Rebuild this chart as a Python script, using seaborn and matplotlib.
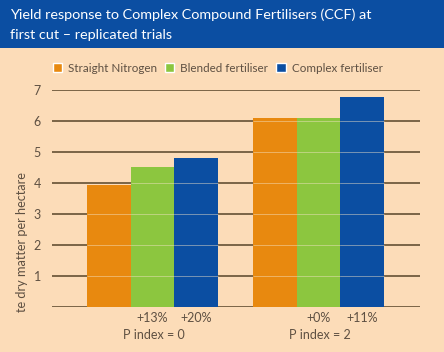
import pandas as pd
import matplotlib.pyplot as plt
import seaborn as sns
from matplotlib.patches import Rectangle

# Data
groups = ["P index = 0", "P index = 2"]
fertilisers = ["Straight Nitrogen", "Blended fertiliser", "Complex fertiliser"]
straight_n = [3.95, 6.1]
blended = [4.52, 6.1]
complex_f = [4.81, 6.77]
pct_labels = [["", "+13%", "+20%"], ["", "+0%", "+11%"]]
yticks = [1, 2, 3, 4, 5, 6, 7]

df = pd.DataFrame({
    "group": groups * 3,
    "fert": [f for f in fertilisers for _ in groups],
    "yield": straight_n + blended + complex_f,
})

peach = "#fcdcb8"
navy = "#0b4ea2"
brown = "#7a6446"
txt = "#5e5042"
colors = ["#e8890f", "#8cc63f", navy]

sns.set_style("white")
plt.rcParams["font.family"] = ["Lato", "DejaVu Sans"]

fig = plt.figure(figsize=(4.44, 3.52), dpi=100, facecolor=peach)
ax = fig.add_axes([52 / 444, 1 - 307 / 352, 368 / 444, 217 / 352])
ax.set_facecolor(peach)

sns.barplot(data=df, x="group", y="yield", hue="fert", palette=colors,
            width=0.79, saturation=1, linewidth=0, ax=ax, legend=False, zorder=2)

# gridlines
for v in [0] + yticks:
    ax.axhline(v, color=brown, lw=1.4, zorder=1)

# faint lines across the bars
for cont in ax.containers:
    for bar in cont:
        x0, x1 = bar.get_x(), bar.get_x() + bar.get_width()
        for v in yticks:
            if v < bar.get_height():
                ax.hlines(v, x0, x1, color="#f4e3c8", lw=0.6, alpha=0.55, zorder=3)

ax.set_xlim(-0.605, 1.611)
ax.set_ylim(0, 7)
ax.set_yticks(yticks)
ax.set_yticklabels([str(t) for t in yticks], color=txt, fontsize=9)
ax.tick_params(axis="y", length=0, pad=8)
ax.set_xticks([])
ax.set_xlabel("")
ax.set_ylabel("")
for s in ax.spines.values():
    s.set_visible(False)

# percent labels and group names
for j, g in enumerate(groups):
    for i, cont in enumerate(ax.containers):
        bar = cont[j]
        cx = bar.get_x() + bar.get_width() / 2
        if pct_labels[j][i]:
            ax.text(cx, -0.36, pct_labels[j][i], ha="center", va="center",
                    color=txt, fontsize=9, clip_on=False)
    mid = ax.containers[1][j]
    ax.text(mid.get_x() + mid.get_width() / 2 + 0.01, -0.9, g, ha="center",
            va="center", color=txt, fontsize=9, clip_on=False)

fig.text(22 / 444, 1 - 242 / 352, "te dry matter per hectare", rotation=90,
         ha="center", va="center", color=txt, fontsize=9.2)

# title band
fig.patches.append(Rectangle((0, 1 - 48 / 352), 1, 48 / 352, transform=fig.transFigure,
                             facecolor=navy, edgecolor="none", zorder=0))
fig.text(10 / 444, 1 - 15 / 352, "Yield response to Complex Compound Fertilisers (CCF) at",
         color="white", fontsize=10.4, va="center")
fig.text(10 / 444, 1 - 35 / 352, "first cut \u2013 replicated trials",
         color="white", fontsize=10.4, va="center")

# legend
handles = [Rectangle((0, 0), 1, 1, facecolor=c) for c in colors]
leg = fig.legend(handles, fertilisers, loc="center", bbox_to_anchor=(0.49, 1 - 68 / 352),
                 ncol=3, frameon=False, fontsize=8.4, handlelength=0.8, handleheight=0.8,
                 handletextpad=0.5, columnspacing=0.7)
for t in leg.get_texts():
    t.set_color(txt)

fig.savefig("out.png", dpi=100, facecolor=peach)
